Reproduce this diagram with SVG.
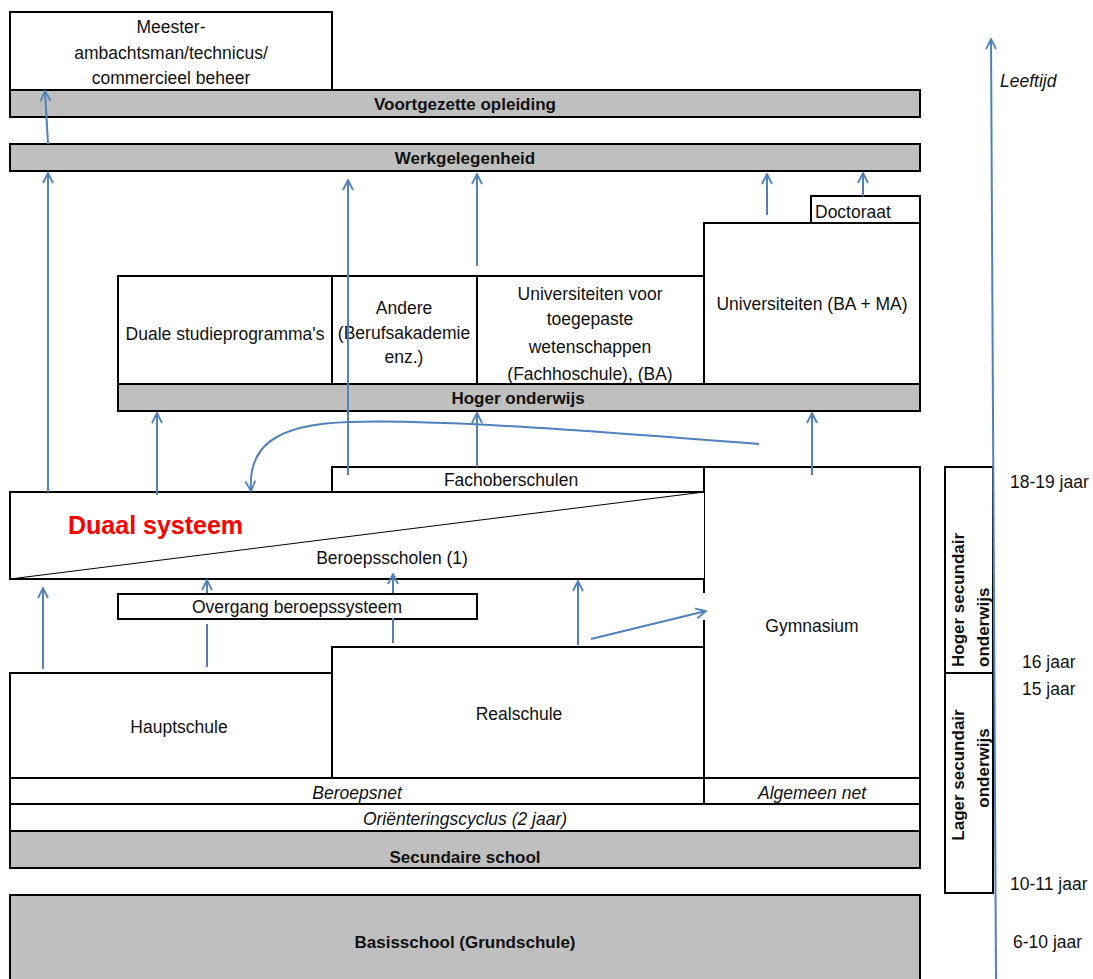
<svg xmlns="http://www.w3.org/2000/svg" width="1093" height="979" viewBox="0 0 1093 979">
<style>
.b{fill:#fff;stroke:#000;stroke-width:2}
.g{fill:#bfbfbf;stroke:#000;stroke-width:2}
.ln{fill:none;stroke:#000;stroke-width:2}
.t{font-family:"Liberation Sans",Arial,sans-serif;font-size:17.5px;fill:#111;text-anchor:middle}
.bd{font-weight:bold;font-size:17px}
.it{font-style:italic}
.st{text-anchor:start}
.c{fill:none;stroke:#4f81bd;stroke-width:2;marker-end:url(#ah)}
.cn{fill:none;stroke:#4f81bd;stroke-width:2}
</style>
<defs>
<marker id="ah" viewBox="0 0 12 12" refX="11" refY="6" markerWidth="12" markerHeight="12" markerUnits="userSpaceOnUse" orient="auto">
<path d="M1,1 L11,6 L1,11" fill="none" stroke="#4f81bd" stroke-width="1.8"/>
</marker>
</defs>
<rect width="1093" height="979" fill="#fff"/>

<g id="meester"><rect class="b" x="10" y="12" width="322" height="78"/>
<text class="t" x="171" y="33">Meester-</text><text class="t" x="171" y="59">ambachtsman/technicus/</text><text class="t" x="171" y="84">commercieel beheer</text></g>
<g id="voortgezette"><rect class="g" x="10" y="90" width="910" height="27"/><text class="t bd" x="465" y="110">Voortgezette opleiding</text></g>
<g id="werk"><rect class="g" x="10" y="144" width="910" height="27"/><text class="t bd" x="465" y="164">Werkgelegenheid</text></g>
<g id="doctoraat"><rect class="b" x="811" y="196" width="109" height="27"/><text class="t st" x="815" y="218">Doctoraat</text></g>
<g id="universiteiten"><rect class="b" x="704" y="223" width="216" height="161"/><text class="t" x="812" y="310">Universiteiten (BA + MA)</text></g>
<g id="duale"><rect class="b" x="118" y="276" width="214" height="108"/><text class="t" x="225" y="340">Duale studieprogramma's</text></g>
<g id="andere"><rect class="b" x="332" y="276" width="145" height="108"/><text class="t" x="404" y="314">Andere</text><text class="t" x="404" y="339">(Berufsakademie</text><text class="t" x="404" y="363">enz.)</text></g>
<g id="fachhochschule"><rect class="b" x="477" y="276" width="227" height="108"/><text class="t" x="590" y="300">Universiteiten voor</text><text class="t" x="590" y="325">toegepaste</text><text class="t" x="590" y="353">wetenschappen</text><text class="t" x="590" y="380">(Fachhoschule), (BA)</text></g>
<g id="hoger"><rect class="g" x="118" y="384" width="802" height="27"/><text class="t bd" x="518" y="404">Hoger onderwijs</text></g>

<g id="fachoberschulen"><rect class="b" x="332" y="467" width="372" height="25"/><text class="t" x="511" y="486">Fachoberschulen</text></g>
<g id="gymnasium"><rect x="704" y="467" width="216" height="311" fill="#fff"/>
<path class="ln" d="M704,467 H920 V778 M704,467 V593 M704,620 V778"/><text class="t" x="812" y="632">Gymnasium</text></g>
<g id="duaal"><rect x="10" y="492" width="694" height="87" fill="#fff"/><path class="ln" d="M704,492 H10 V579 H704"/>
<line x1="10" y1="579" x2="704" y2="492" stroke="#000" stroke-width="1"/>
<text x="68" y="534" font-family="'Liberation Sans',Arial,sans-serif" font-size="25" font-weight="bold" fill="#ff0000">Duaal systeem</text>
<text class="t" x="392" y="564">Beroepsscholen (1)</text></g>
<g id="overgang"><rect class="b" x="118" y="594" width="359" height="25"/><text class="t" x="297" y="613">Overgang beroepssysteem</text></g>
<g id="hauptschule"><rect class="b" x="10" y="673" width="322" height="105"/><text class="t" x="179" y="733">Hauptschule</text></g>
<g id="realschule"><rect class="b" x="332" y="647" width="372" height="131"/><text class="t" x="519" y="720">Realschule</text></g>
<g id="beroepsnet"><rect class="b" x="10" y="778" width="694" height="26"/><text class="t it" x="357" y="799">Beroepsnet</text></g>
<g id="algemeen"><rect class="b" x="704" y="778" width="216" height="26"/><text class="t it" x="812" y="799">Algemeen net</text></g>
<g id="orientering"><rect class="b" x="10" y="804" width="910" height="27"/><text class="t it" x="465" y="825">Oriënteringscyclus (2 jaar)</text></g>
<g id="secundaire"><rect class="g" x="10" y="831" width="910" height="37"/><text class="t bd" x="465" y="863">Secundaire school</text></g>
<g id="basisschool"><rect class="g" x="10" y="895" width="910" height="90"/><text class="t bd" x="465" y="948">Basisschool (Grundschule)</text></g>

<g id="hogersec"><rect class="b" x="945" y="467" width="48" height="206"/>
<text class="t bd st" transform="translate(964,667) rotate(-90)">Hoger secundair</text>
<text class="t bd st" transform="translate(989,667) rotate(-90)">onderwijs</text></g>
<g id="lagersec"><rect class="b" x="945" y="673" width="48" height="220"/>
<text class="t bd" transform="translate(964,775) rotate(-90)">Lager secundair</text>
<text class="t bd" transform="translate(989,768) rotate(-90)">onderwijs</text></g>

<g id="ages">
<text class="t it st" x="1000" y="87">Leeftijd</text>
<text class="t st" x="1010" y="488">18-19 jaar</text>
<text class="t st" x="1022" y="668">16 jaar</text>
<text class="t st" x="1022" y="695">15 jaar</text>
<text class="t st" x="1010" y="890">10-11 jaar</text>
<text class="t st" x="1013" y="948">6-10 jaar</text>
</g>

<g id="connectors">
<path class="c" d="M996,979 L991,39"/>
<path class="c" d="M48,144 L45,91"/>
<path class="c" d="M48,492 L48,173"/>
<path class="c" d="M348,475 L348,180"/>
<path class="c" d="M477,266 L477,174"/>
<path class="c" d="M767,215 L767,174"/>
<path class="c" d="M863,196 L863,173"/>
<path class="c" d="M157,495 L157,413"/>
<path class="c" d="M477,467 L477,413"/>
<path class="c" d="M812,475 L812,413"/>
<path class="c" d="M759,444 C620,433 440,419 350,422 C270,424 248,450 251,491"/>
<path class="c" d="M43,669 L43,588"/>
<path class="cn" d="M207,667 L207,624"/>
<path class="c" d="M207,593 L207,580"/>
<path class="cn" d="M393,643 L393,618"/>
<path class="c" d="M393,593 L393,574"/>
<path class="c" d="M578,645 L578,581"/>
<path class="c" d="M591,639 L706,611"/>
</g>
</svg>
